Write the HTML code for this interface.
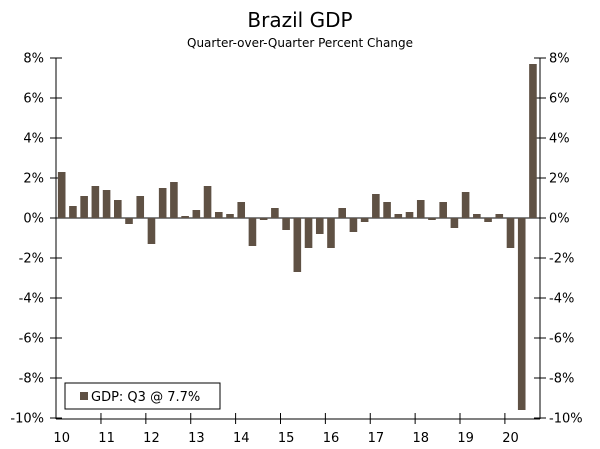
<!DOCTYPE html>
<html><head><meta charset="utf-8"><style>
body{margin:0;background:#fff;}
svg{display:block;font-family:"DejaVu Sans","Liberation Sans",sans-serif;}
</style></head><body>
<svg id="chart" width="600" height="449">
<text x="300" y="27" font-size="20" text-anchor="middle" fill="#000">Brazil GDP</text>
<text x="300" y="47" font-size="12" text-anchor="middle" fill="#000">Quarter-over-Quarter Percent Change</text>
<g id="axes"></g>
<g id="bars"></g>
<g>
<rect x="65" y="383" width="155" height="26" fill="#fff" stroke="#000" stroke-width="1"/>
<rect x="80" y="392" width="8" height="8" fill="#5f5144"/>
<text x="91" y="401" font-size="13" fill="#000">GDP: Q3 @ 7.7%</text>
</g>
</svg>
<script>
const values = [2.3,0.6,1.1,1.6,1.4,0.9,-0.3,1.1,-1.3,1.5,1.8,0.1,0.4,1.6,0.3,0.2,0.8,-1.4,-0.1,0.5,-0.6,-2.7,-1.5,-0.8,-1.5,0.5,-0.7,-0.2,1.2,0.8,0.2,0.3,0.9,-0.1,0.8,-0.5,1.3,0.2,-0.2,0.2,-1.5,-9.6,7.7];
const yTicks = [8,6,4,2,0,-2,-4,-6,-8,-10];
const years = ["10","11","12","13","14","15","16","17","18","19","20"];
const NS="http://www.w3.org/2000/svg";
const X0=56, X1=540, yTop=58, yBot=418, yMax=8, yMin=-10;
const step=11.22, firstX=61.7, bw=7.6;
function y(v){return yTop+(yMax-v)/(yMax-yMin)*(yBot-yTop);}
function x(i){return firstX+i*step;}
function mk(tag,attrs,parent){const e=document.createElementNS(NS,tag);for(const k in attrs)e.setAttribute(k,attrs[k]);parent.appendChild(e);return e;}
const axes=document.getElementById('axes'), bars=document.getElementById('bars');
let e;
e=mk('line',{x1:X0,x2:X0,y1:yTop,y2:yBot+1,stroke:'#000'},axes);


e=mk('line',{x1:X1,x2:X1,y1:yTop,y2:yBot+1,stroke:'#000'},axes);


e=mk('line',{x1:X0,x2:X1,y1:yBot+1,y2:yBot+1,stroke:'#000'},axes);


e=mk('line',{x1:X0,x2:X1,y1:y(0),y2:y(0),stroke:'#000'},axes);


yTicks.forEach(v=>{
 const yy=y(v);
 mk('line',{x1:X0-6,x2:X0+6,y1:yy,y2:yy,stroke:'#000'},axes);
 mk('line',{x1:X1-6,x2:X1+6,y1:yy,y2:yy,stroke:'#000'},axes);
 let t=mk('text',{x:44,y:yy+4.5,'font-size':13,'text-anchor':'end'},axes);t.textContent=v+'%';
 
 
 t=mk('text',{x:549,y:yy+4.5,'font-size':13,'text-anchor':'start'},axes);t.textContent=v+'%';
 
 
});
years.forEach((yr,k)=>{
 const bx=x(k*4)-step/2;
 if(k>0) mk('line',{x1:bx,x2:bx,y1:yBot-5,y2:yBot+6,stroke:'#000'},axes);
 const t=mk('text',{x:x(k*4),y:442,'font-size':13,'text-anchor':'middle'},axes);t.textContent=yr;
 
 
});
values.forEach((v,i)=>{
 const y0=y(0), yv=y(v);
 const r=mk('rect',{x:x(i)-bw/2,y:Math.min(y0,yv),width:bw,height:Math.max(0.8,Math.abs(yv-y0)),fill:'#5f5144'},bars);
 
 
});
</script>
</body></html>
